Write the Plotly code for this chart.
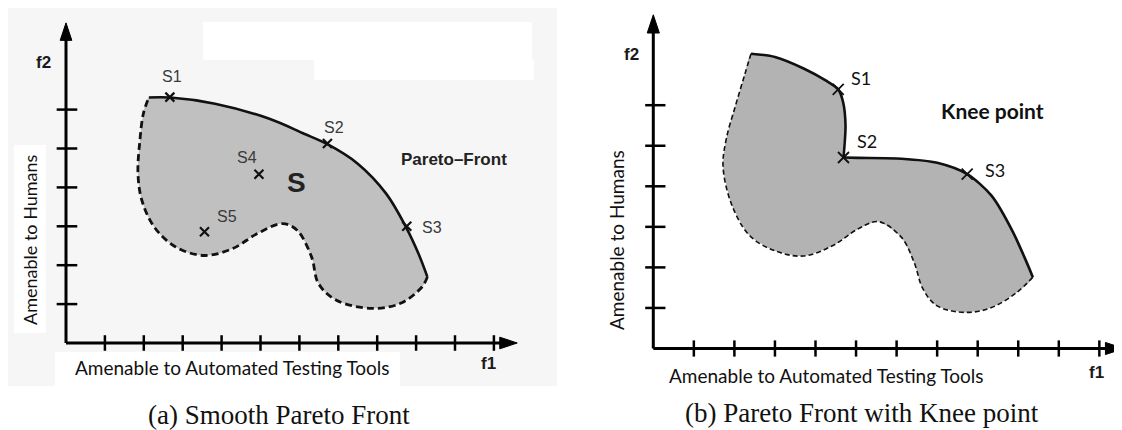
import plotly.graph_objects as go

# ---------------- data (axis units: one tick = one unit) ----------------
ticks_f1 = [1, 2, 3, 4, 5, 6, 7, 8, 9, 10, 11]
ticks_f2 = [1, 2, 3, 4, 5, 6]

# Panel (a) Smooth Pareto Front
a_front_x = [2.13, 2.68, 3.83, 5.21, 6.12, 6.72, 7.50, 8.23, 8.74, 9.06, 9.29]
a_front_y = [6.31, 6.31, 6.15, 5.77, 5.38, 5.11, 4.61, 3.84, 2.98, 2.30, 1.70]
a_bound_x = [9.29, 9.15, 8.60, 7.87, 6.95, 6.49, 6.31, 5.94, 5.57, 4.93, 4.29,
             3.55, 2.82, 2.27, 1.95, 1.85, 1.90, 1.99, 2.13]
a_bound_y = [1.70, 1.44, 1.02, 0.89, 1.10, 1.53, 2.22, 2.90, 3.07, 2.82, 2.43,
             2.25, 2.47, 2.98, 3.67, 4.36, 5.21, 5.90, 6.31]
a_pt_names = ["S1", "S2", "S3", "S4", "S5"]
a_pt_x = [2.67, 6.72, 8.76, 4.96, 3.56]
a_pt_y = [6.32, 5.13, 3.00, 4.34, 2.86]
a_lbl_x = [2.72, 6.89, 9.40, 4.64, 4.13]
a_lbl_y = [6.86, 5.55, 2.98, 4.77, 3.25]

# Panel (b) Pareto Front with Knee point
b_front1_x = [2.41, 3.00, 3.72, 4.25, 4.56, 4.68, 4.74, 4.69]
b_front1_y = [7.27, 7.19, 6.90, 6.61, 6.39, 6.08, 5.50, 4.71]
b_front2_x = [4.69, 5.05, 6.12, 7.00, 7.74, 8.34, 8.87, 9.36]
b_front2_y = [4.71, 4.70, 4.68, 4.58, 4.30, 3.77, 2.87, 1.76]
b_bound_x = [9.36, 8.96, 8.34, 7.72, 7.00, 6.65, 6.43, 6.12, 5.55, 5.05, 4.43,
             3.70, 3.00, 2.38, 1.94, 1.72, 1.80, 2.03, 2.25, 2.41]
b_bound_y = [1.76, 1.38, 1.01, 0.89, 1.05, 1.47, 2.13, 2.74, 3.13, 2.95, 2.54,
             2.28, 2.41, 2.78, 3.53, 4.48, 5.17, 6.00, 6.74, 7.27]
b_pt_names = ["S1", "S2", "S3"]
b_pt_x = [4.56, 4.69, 7.74]
b_pt_y = [6.39, 4.71, 4.30]
b_lbl_x = [5.11, 5.26, 8.43]
b_lbl_y = [6.66, 5.12, 4.40]

axis_len_f1 = 11.6
axis_len_f2 = 8.23

# ---------------- styles ----------------
SANS = "Liberation Sans, Arial, sans-serif"
HUMAN = "Lato, Open Sans, sans-serif"
SERIF = "Liberation Serif, Times New Roman, serif"

# the page body has an 8px margin; the figure is sized so that it fills the window
OFF = 8
W, H = 1122 - OFF, 430 - OFF
SPLIT = 565  # window pixel between the two panels

fig = go.Figure()


def add_axes(xa, ya, tick_lo, tick_hi):
    fig.add_trace(go.Scatter(x=[0, 0, None, 0, axis_len_f1 - 0.3], y=[axis_len_f2 - 0.3, 0, None, 0, 0],
                             mode="lines", line=dict(color="black", width=3),
                             xaxis=xa, yaxis=ya, hoverinfo="skip", cliponaxis=False))
    tx, ty = [], []
    for k in ticks_f1:
        tx += [k, k, None]
        ty += [-0.2, 0.2, None]
    for k in ticks_f2:
        tx += [tick_lo, tick_hi, None]
        ty += [k, k, None]
    fig.add_trace(go.Scatter(x=tx, y=ty, mode="lines", line=dict(color="black", width=2.5),
                             xaxis=xa, yaxis=ya, hoverinfo="skip", cliponaxis=False))
    fig.add_trace(go.Scatter(x=[0, -0.15, 0.15, 0], y=[axis_len_f2, axis_len_f2 - 0.45, axis_len_f2 - 0.45, axis_len_f2],
                             mode="lines", fill="toself", fillcolor="black", line=dict(color="black", width=1),
                             xaxis=xa, yaxis=ya, hoverinfo="skip", cliponaxis=False))
    fig.add_trace(go.Scatter(x=[axis_len_f1, axis_len_f1 - 0.45, axis_len_f1 - 0.45, axis_len_f1],
                             y=[0, 0.15, -0.15, 0],
                             mode="lines", fill="toself", fillcolor="black", line=dict(color="black", width=1),
                             xaxis=xa, yaxis=ya, hoverinfo="skip", cliponaxis=False))


# ---- panel (a)
fig.add_trace(go.Scatter(x=a_front_x + a_bound_x[1:], y=a_front_y + a_bound_y[1:],
                         mode="lines", fill="toself", fillcolor="#c0c0c0",
                         line=dict(width=0, shape="spline", smoothing=1), xaxis="x", yaxis="y",
                         hoverinfo="skip"))
fig.add_trace(go.Scatter(x=a_bound_x, y=a_bound_y, mode="lines",
                         line=dict(color="#111", width=2.8, dash="7px,4px", shape="spline", smoothing=1),
                         xaxis="x", yaxis="y", hoverinfo="skip"))
fig.add_trace(go.Scatter(x=a_front_x, y=a_front_y, mode="lines",
                         line=dict(color="#111", width=2.6, shape="spline", smoothing=1),
                         xaxis="x", yaxis="y", hoverinfo="skip"))
fig.add_trace(go.Scatter(x=a_pt_x, y=a_pt_y, mode="markers",
                         marker=dict(symbol="x-thin", size=9, line=dict(color="#111", width=2.2)),
                         xaxis="x", yaxis="y", hoverinfo="skip"))
add_axes("x", "y", -0.24, 0.29)

# ---- panel (b)
fig.add_trace(go.Scatter(x=b_front1_x + b_front2_x[1:] + b_bound_x[1:],
                         y=b_front1_y + b_front2_y[1:] + b_bound_y[1:],
                         mode="lines", fill="toself", fillcolor="#b3b3b3",
                         line=dict(width=0, shape="spline", smoothing=0.6), xaxis="x2", yaxis="y2",
                         hoverinfo="skip"))
fig.add_trace(go.Scatter(x=b_bound_x, y=b_bound_y, mode="lines",
                         line=dict(color="#111", width=1.6, dash="5px,3px", shape="spline", smoothing=1),
                         xaxis="x2", yaxis="y2", hoverinfo="skip"))
for fx, fy in ((b_front1_x, b_front1_y), (b_front2_x, b_front2_y)):
    fig.add_trace(go.Scatter(x=fx, y=fy, mode="lines",
                             line=dict(color="#111", width=2.6, shape="spline", smoothing=0.8),
                             xaxis="x2", yaxis="y2", hoverinfo="skip"))
fig.add_trace(go.Scatter(x=b_pt_x, y=b_pt_y, mode="markers",
                         marker=dict(symbol="x-thin", size=11, line=dict(color="#111", width=1.8)),
                         xaxis="x2", yaxis="y2", hoverinfo="skip"))
add_axes("x2", "y2", -0.2, 0.3)

# ---------------- text ----------------
ann = []
for n, x, y in zip(a_pt_names, a_lbl_x, a_lbl_y):
    ann.append(dict(x=x, y=y, xref="x", yref="y", text=n, showarrow=False,
                    font=dict(family=SANS, size=16, color="#3a3a3a")))
ann += [
    dict(x=5.93, y=4.12, xref="x", yref="y", text="<b>S</b>", showarrow=False,
         font=dict(family=SANS, size=28, color="#222")),
    dict(x=9.97, y=4.72, xref="x", yref="y", text="<b>Pareto–Front</b>", showarrow=False,
         font=dict(family=SANS, size=17, color="#222")),
    dict(x=-0.59, y=7.22, xref="x", yref="y", text="<b>f2</b>", showarrow=False,
         font=dict(family=SANS, size=17, color="#1a1a1a")),
    dict(x=10.87, y=-0.52, xref="x", yref="y", text="<b>f1</b>", showarrow=False,
         font=dict(family=SANS, size=17, color="#1a1a1a")),
    dict(x=4.27, y=-0.64, xref="x", yref="y", text="Amenable to Automated Testing Tools", showarrow=False,
         font=dict(family=HUMAN, size=19, color="#111")),
    dict(x=-0.93, y=2.67, xref="x", yref="y", text="Amenable to Humans", showarrow=False, textangle=-90,
         font=dict(family=HUMAN, size=18, color="#111")),
]
for n, x, y in zip(b_pt_names, b_lbl_x, b_lbl_y):
    ann.append(dict(x=x, y=y, xref="x2", yref="y2", text=n, showarrow=False,
                    font=dict(family=HUMAN, size=18, color="#111")))
ann += [
    dict(x=8.37, y=5.88, xref="x2", yref="y2", text="<b>Knee point</b>", showarrow=False,
         font=dict(family=HUMAN, size=21, color="#111")),
    dict(x=-0.53, y=7.24, xref="x2", yref="y2", text="<b>f2</b>", showarrow=False,
         font=dict(family=SANS, size=17, color="#1a1a1a")),
    dict(x=10.94, y=-0.6, xref="x2", yref="y2", text="<b>f1</b>", showarrow=False,
         font=dict(family=SANS, size=17, color="#1a1a1a")),
    dict(x=4.28, y=-0.66, xref="x2", yref="y2", text="Amenable to Automated Testing Tools", showarrow=False,
         font=dict(family=HUMAN, size=19, color="#111")),
    dict(x=-0.89, y=2.68, xref="x2", yref="y2", text="Amenable to Humans", showarrow=False, textangle=-90,
         font=dict(family=HUMAN, size=19, color="#111")),
    dict(x=(279 - OFF) / W, y=1 - (415 - OFF) / H, xref="paper", yref="paper", xanchor="center",
         yanchor="middle", text="(a) Smooth Pareto Front",
         showarrow=False, font=dict(family=SERIF, size=27, color="#111")),
    dict(x=(862 - OFF) / W, y=1 - (413 - OFF) / H, xref="paper", yref="paper", xanchor="center",
         yanchor="middle", text="(b) Pareto Front with Knee point",
         showarrow=False, font=dict(family=SERIF, size=27, color="#111")),
]


def prect(x0, y0, x1, y1, color):
    return dict(type="rect", xref="paper", yref="paper", x0=(x0 - OFF) / W, x1=(x1 - OFF) / W,
                y0=1 - (y1 - OFF) / H, y1=1 - (y0 - OFF) / H, fillcolor=color, line=dict(width=0), layer="below")


shapes = [
    prect(5, 5, 557, 386, "#f6f6f6"),
    prect(203, 22, 532, 60, "#ffffff"),
    prect(314, 60, 534, 80, "#ffffff"),
    prect(14, 145, 46, 333, "#ffffff"),
    prect(55, 352, 400, 393, "#ffffff"),
]


def xrange_for(origin, unit, d0, d1):
    r0 = -(origin - d0) / unit
    return [r0, r0 + (d1 - d0) / unit]


def yrange_for(origin, unit):
    r0 = -(430 - origin) / unit
    return [r0, r0 + H / unit]


ax_common = dict(visible=False, showgrid=False, zeroline=False, fixedrange=True)
fig.update_layout(
    width=W, height=H,
    margin=dict(l=0, r=0, t=0, b=0),
    paper_bgcolor="white", plot_bgcolor="rgba(0,0,0,0)",
    showlegend=False,
    xaxis=dict(domain=[0, (SPLIT - OFF) / W], range=xrange_for(66, 38.9, OFF, SPLIT), **ax_common),
    yaxis=dict(domain=[0, 1], range=yrange_for(343, 38.9), **ax_common),
    xaxis2=dict(domain=[(SPLIT - OFF) / W, 1], range=xrange_for(653.3, 40.55, SPLIT, 1122), **ax_common),
    yaxis2=dict(domain=[0, 1], range=yrange_for(348.5, 40.55), anchor="x2", **ax_common),
    annotations=ann,
    shapes=shapes,
)

fig.write_html("out.html")
